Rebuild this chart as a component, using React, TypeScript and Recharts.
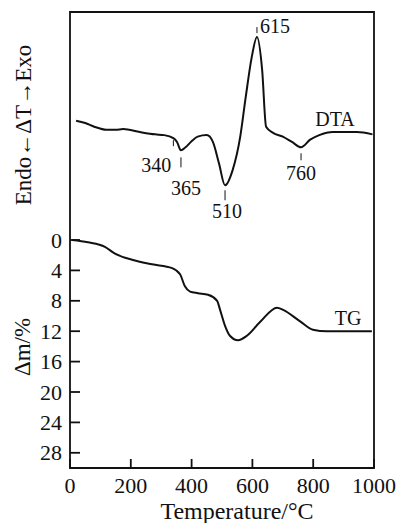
import { Label, Line, LineChart, ReferenceArea, ReferenceDot, XAxis, YAxis } from 'recharts';

const SERIF = '"Liberation Serif", "Times New Roman", serif';
const PLOT_LEFT = 70;
const PLOT_BOTTOM = 468;

const temperatureTicks = [0, 200, 400, 600, 800, 1000];
const massLossTicks = [0, 4, 8, 12, 16, 20, 24, 28];

// DTA trace: temperature (°C) vs. ΔT in arbitrary units
const dtaTemp = [20, 50, 80, 120, 150, 175, 230, 280, 310, 340, 352, 365, 380, 400, 420, 450, 470, 490, 510, 535, 560, 578, 598, 615, 632, 645, 668, 700, 730, 760, 790, 820, 865, 944, 995];
const dtaSignal = [45.7, 45.4, 44.9, 44.5, 44.5, 44.6, 44.2, 43.9, 43.8, 43.4, 42.9, 41.8, 42.2, 43.0, 43.6, 43.8, 42.9, 40.1, 37.2, 39.2, 43.6, 48.8, 54.1, 56.7, 52.4, 44.9, 44.1, 43.6, 42.9, 42.2, 43.2, 43.8, 44.2, 44.2, 43.9];

// TG trace: temperature (°C) vs. mass loss (%)
const tgTemp = [7, 59, 115, 148, 204, 270, 336, 362, 378, 395, 421, 454, 484, 493, 510, 526, 553, 582, 625, 681, 701, 757, 799, 845, 993];
const tgLoss = [0, 0.3, 0.9, 1.8, 2.6, 3.2, 3.7, 4.5, 6.1, 6.8, 7.0, 7.2, 8.0, 9.1, 11.3, 12.6, 13.2, 12.6, 10.8, 8.9, 9.2, 10.7, 11.8, 12.0, 12.0];

const peakTemps = [340, 365, 510, 615, 760];

const dtaData = dtaTemp.map((t, i) => ({ t, v: dtaSignal[i] }));
const tgData = tgTemp.map((t, i) => ({ t, v: tgLoss[i] }));

// where each peak's tick mark and number sit relative to the curve
const peakMark: Record<number, { y1: number; y2: number; dx: number; dy: number; anchor: string }> = {
  340: { y1: 2, y2: 8, dx: -2, dy: 34, anchor: 'end' },
  365: { y1: 7, y2: 17, dx: 5, dy: 45, anchor: 'middle' },
  510: { y1: 5, y2: 15, dx: 2, dy: 33, anchor: 'middle' },
  615: { y1: -10, y2: -4, dx: 3, dy: -4, anchor: 'start' },
  760: { y1: 6, y2: 13, dx: 0, dy: 33, anchor: 'middle' },
};

// ticks point inwards, so draw them ourselves
const LeftTick = ({ y, payload }: any) => (
  <g>
    <line x1={PLOT_LEFT} x2={PLOT_LEFT + 10} y1={y} y2={y} stroke="#111" strokeWidth={1.8} />
    <text x={PLOT_LEFT - 8} y={y} dy={7.5} textAnchor="end" fontSize={22} fontFamily={SERIF} fill="#111">
      {payload.value}
    </text>
  </g>
);

const BottomTick = ({ x, payload }: any) => (
  <g>
    <line x1={x} x2={x} y1={PLOT_BOTTOM} y2={PLOT_BOTTOM - 9} stroke="#111" strokeWidth={1.8} />
    <text x={x} y={PLOT_BOTTOM + 25} textAnchor="middle" fontSize={22} fontFamily={SERIF} fill="#111">
      {payload.value}
    </text>
  </g>
);

const AxisTitles = () => (
  <g fontFamily={SERIF} fill="#111">
    <text transform="translate(23,125) rotate(-90)" textAnchor="middle" dy="0.35em" fontSize={23}>
      Endo←ΔT→Exo
    </text>
    <text transform="translate(22,347) rotate(-90)" textAnchor="middle" dy="0.35em" fontSize={23}>
      Δm/%
    </text>
  </g>
);

export default function App() {
  return (
    <div style={{ position: 'absolute', left: 0, top: 0, background: '#fff' }}>
      <LineChart width={398} height={523} margin={{ top: 12, right: 24, bottom: 0, left: 0 }}>
        <XAxis
          type="number"
          dataKey="t"
          domain={[0, 1000]}
          ticks={temperatureTicks}
          height={55}
          tickLine={false}
          axisLine={false}
          tick={<BottomTick />}
          allowDataOverflow
        >
          <Label
            content={() => (
              <text x={237} y={519} textAnchor="middle" fontSize={24} fontFamily={SERIF} fill="#111">
                Temperature/°C
              </text>
            )}
          />
        </XAxis>
        <YAxis
          yAxisId="tg"
          type="number"
          reversed
          domain={[-30, 30]}
          ticks={massLossTicks}
          width={70}
          tickLine={false}
          axisLine={false}
          tick={<LeftTick />}
          allowDataOverflow
        >
          <Label content={() => <AxisTitles />} />
        </YAxis>
        <YAxis yAxisId="dta" orientation="right" width={0} type="number" domain={[0, 60]} hide allowDataOverflow />

        {/* box around the plot */}
        <ReferenceArea
          yAxisId="tg"
          x1={0}
          x2={1000}
          y1={-30}
          y2={30}
          fill="none"
          stroke="#111"
          strokeWidth={1.8}
          ifOverflow="visible"
        />

        <Line
          yAxisId="dta"
          data={dtaData}
          dataKey="v"
          type="monotone"
          stroke="#111"
          strokeWidth={2}
          dot={false}
          isAnimationActive={false}
        />
        <Line
          yAxisId="tg"
          data={tgData}
          dataKey="v"
          type="monotone"
          stroke="#111"
          strokeWidth={2}
          dot={false}
          isAnimationActive={false}
        />

        {peakTemps.map((t) => {
          const m = peakMark[t];
          return (
            <ReferenceDot
              key={t}
              yAxisId="dta"
              x={t}
              y={dtaSignal[dtaTemp.indexOf(t)]}
              ifOverflow="visible"
              shape={(p: any) => (
                <g>
                  <line x1={p.cx} x2={p.cx} y1={p.cy + m.y1} y2={p.cy + m.y2} stroke="#111" strokeWidth={1} />
                  <text
                    x={p.cx + m.dx}
                    y={p.cy + m.dy}
                    textAnchor={m.anchor}
                    fontSize={20}
                    fontFamily={SERIF}
                    fill="#111"
                  >
                    {t}
                  </text>
                </g>
              )}
            />
          );
        })}

        <ReferenceDot
          yAxisId="dta"
          x={865}
          y={44.2}
          ifOverflow="visible"
          shape={(p: any) => (
            <text x={p.cx + 2} y={p.cy - 6} textAnchor="middle" fontSize={20} fontFamily={SERIF} fill="#111">
              DTA
            </text>
          )}
        />
        <ReferenceDot
          yAxisId="tg"
          x={915}
          y={12}
          ifOverflow="visible"
          shape={(p: any) => (
            <text x={p.cx} y={p.cy - 6} textAnchor="middle" fontSize={20} fontFamily={SERIF} fill="#111">
              TG
            </text>
          )}
        />
      </LineChart>
    </div>
  );
}
